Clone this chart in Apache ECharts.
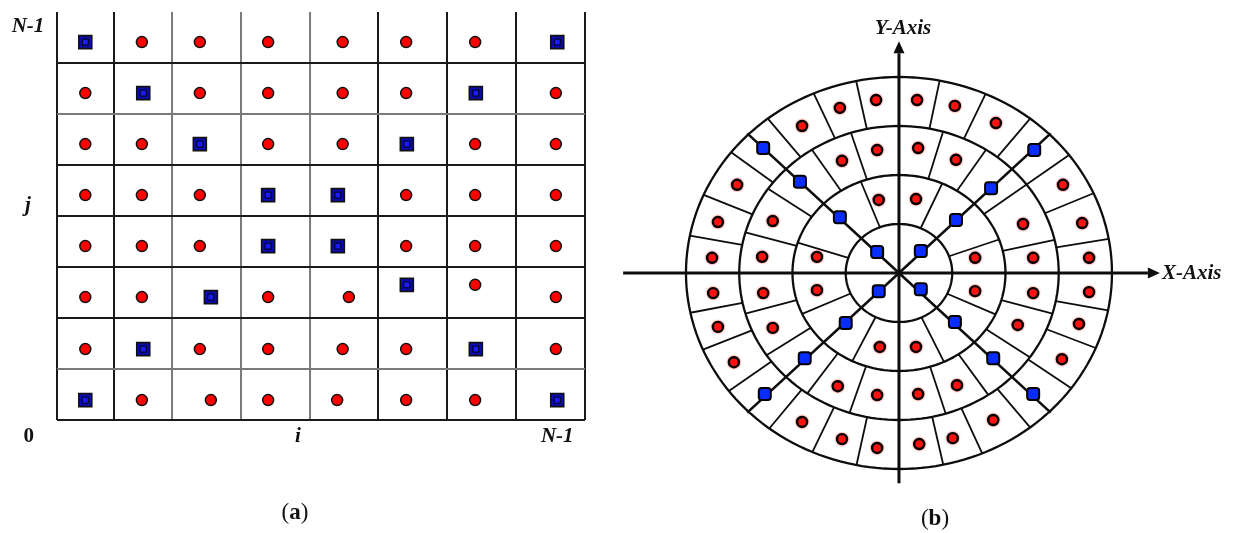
<!DOCTYPE html>
<html>
<head>
<meta charset="utf-8">
<script src="https://cdn.jsdelivr.net/npm/echarts@6/dist/echarts.min.js"></script>
<style>
  html, body { margin: 0; padding: 0; background: #ffffff; }
  #chart { width: 1233px; height: 533px; }
</style>
</head>
<body>
<div id="chart"></div>
<script>
// ---------- (a) rectangular sampling grid, in cell units ----------
const colEdges = [0, 0.826, 1.667, 2.667, 3.667, 4.652, 5.652, 6.652, 7.652];
const rowEdges = [0, 1, 2, 3, 4, 5, 6, 7, 8];
// line tone per vertical / horizontal edge (top edge is open)
const colTones = ['dark', 'dark', 'light', 'light', 'light', 'dark', 'dark', 'dark', 'dark'];
const rowTones = ['dark', 'light', 'dark', 'dark', 'dark', 'dark', 'light', 'dark'];

const gridRedPoints = [
  [1.23, 7.41], [2.07, 7.41], [3.06, 7.41], [4.14, 7.41], [5.06, 7.41], [6.06, 7.41],
  [0.41, 6.41], [2.07, 6.41], [3.06, 6.41], [4.14, 6.41], [5.06, 6.41], [7.23, 6.41],
  [0.41, 5.41], [1.23, 5.41], [3.06, 5.41], [4.14, 5.41], [6.06, 5.41], [7.23, 5.41],
  [0.41, 4.41], [1.23, 4.41], [2.07, 4.41], [5.06, 4.41], [6.06, 4.41], [7.23, 4.41],
  [0.41, 3.41], [1.23, 3.41], [2.07, 3.41], [5.06, 3.41], [6.06, 3.41], [7.23, 3.41],
  [0.41, 2.41], [1.23, 2.41], [3.06, 2.41], [4.23, 2.41], [6.06, 2.65], [7.23, 2.41],
  [0.41, 1.39], [2.07, 1.39], [3.06, 1.39], [4.14, 1.39], [5.06, 1.39], [7.23, 1.39],
  [1.23, 0.39], [2.23, 0.39], [3.06, 0.39], [4.06, 0.39], [5.06, 0.39], [6.06, 0.39]
];
const gridBluePoints = [
  [0.41, 7.41], [7.25, 7.41], [1.25, 6.41], [6.07, 6.41],
  [2.07, 5.41], [5.07, 5.41], [3.06, 4.41], [4.07, 4.41],
  [3.06, 3.41], [4.07, 3.41], [2.23, 2.41], [5.07, 2.65],
  [1.25, 1.39], [6.07, 1.39], [0.41, 0.39], [7.25, 0.39]
];
// axis captions of panel (a); '0' is set upright, the rest in italics
const gridTickLabels = ['N-1', 'j', '0', 'i', 'N-1'];
const gridTickPos = [[-0.42, 7.71], [-0.42, 4.2], [-0.41, -0.33], [3.49, -0.33], [7.25, -0.33]];
const gridTickItalic = [true, true, false, true, true];

// ---------- (b) polar sampling pattern, in ring units ----------
const ringRadii = [1, 2, 3, 4];
// spoke angles (degrees) inside ring 1-2, ring 2-3 and ring 3-4
const spokeAngles2 = [20, 66, 111, 162, 204.7, 244, 295, 335];
const spokeAngles3 = [13, 37, 57, 74, 107.5, 123, 145, 164, 196, 214, 235, 252, 287, 304, 325, 344];
const spokeAngles4 = [10, 24, 37, 52, 66, 79, 101.6, 113.6, 128, 142, 156.5, 169,
                      191.7, 203, 217, 232.5, 246, 258.5, 282, 293, 308, 324, 337.5, 349];
const diagonalAngles = [45, 135, 225, 315];
const diagonalLength = 4.03;

const polarRedPoints = [
  // upper right
  [0.34, 3.53], [1.05, 3.41], [1.82, 3.06], [3.08, 1.80], [3.44, 1.02], [3.57, 0.31],
  [0.36, 2.55], [1.07, 2.31], [2.33, 1.00], [2.52, 0.31],
  [0.32, 1.51], [1.43, 0.31],
  // upper left
  [-0.43, 3.53], [-1.11, 3.37], [-1.82, 3.00], [-3.04, 1.80], [-3.40, 1.04], [-3.51, 0.31],
  [-0.41, 2.51], [-1.07, 2.29], [-2.37, 1.06], [-2.57, 0.33],
  [-0.38, 1.49], [-1.54, 0.33],
  // lower left
  [-3.49, -0.41], [-3.40, -1.10], [-3.10, -1.82], [-1.82, -3.04], [-1.07, -3.39], [-0.41, -3.57],
  [-2.55, -0.41], [-2.37, -1.12], [-1.15, -2.31], [-0.41, -2.49],
  [-1.54, -0.35], [-0.36, -1.51],
  // lower right
  [3.57, -0.39], [3.38, -1.04], [3.06, -1.76], [1.77, -3.00], [1.01, -3.37], [0.38, -3.49],
  [2.52, -0.41], [2.23, -1.06], [1.09, -2.29], [0.36, -2.47],
  [1.43, -0.37], [0.32, -1.51]
];
const polarBluePoints = [
  [0.41, 0.45], [1.07, 1.08], [1.73, 1.73], [2.54, 2.51],
  [-0.41, 0.43], [-1.11, 1.14], [-1.86, 1.86], [-2.55, 2.55],
  [-0.38, -0.37], [-1.00, -1.02], [-1.77, -1.74], [-2.52, -2.47],
  [0.41, -0.33], [1.05, -1.00], [1.77, -1.74], [2.52, -2.47]
];
// axis lines: [x start, y start, x tip, y tip]
const axisLines = [[-5.18, 0, 4.90, 0], [0, -4.29, 0, 4.73]];
const axisNames = ['X-Axis', 'Y-Axis'];

// ---------- drawing ----------
const SERIF = '"Liberation Serif", "Times New Roman", serif';
const INK = '#111111';
const toneColor = { dark: '#1a1a1a', light: '#7a7a7a' };
const rad = d => d * Math.PI / 180;

function lineItem(a, b, color, width) {
  return { type: 'line', shape: { x1: a[0], y1: a[1], x2: b[0], y2: b[1] },
           style: { stroke: color, lineWidth: width, lineCap: 'butt' } };
}

const spokeData = []
  .concat(spokeAngles2.map(a => [a, 1, 2]))
  .concat(spokeAngles3.map(a => [a, 2, 3]))
  .concat(spokeAngles4.map(a => [a, 3, 4]));

const chart = echarts.init(document.getElementById('chart'), null, { renderer: 'canvas' });

function caption(letter, x, y) {
  return {
    type: 'text', x: x, y: y,
    style: {
      text: '({b|' + letter + '})', align: 'center', verticalAlign: 'middle',
      fontFamily: SERIF, fontSize: 23, fill: INK,
      rich: { b: { fontWeight: 'bold', fontSize: 23, fontFamily: SERIF, fill: INK } }
    }
  };
}

chart.setOption({
  animation: false,
  backgroundColor: '#ffffff',
  grid: [
    { left: 57, top: 12, width: 528, height: 408 },
    { left: 606.1, top: 28, width: 585.75, height: 490 }
  ],
  xAxis: [
    { gridIndex: 0, type: 'value', min: 0, max: 7.652, show: false },
    { gridIndex: 1, type: 'value', min: -5.5, max: 5.5, show: false }
  ],
  yAxis: [
    { gridIndex: 0, type: 'value', min: 0, max: 8, show: false },
    { gridIndex: 1, type: 'value', min: -5, max: 5, show: false }
  ],
  graphic: [caption('a', 295, 513), caption('b', 935, 519)],
  series: [
    // (a) vertical cell edges
    {
      type: 'custom', xAxisIndex: 0, yAxisIndex: 0, silent: true,
      data: colEdges.map(x => [x, 0]),
      renderItem: (params, api) => {
        const x = api.value(0);
        const p0 = api.coord([x, rowEdges[0]]);
        const p1 = api.coord([x, rowEdges[rowEdges.length - 1]]);
        return lineItem(p0, p1, toneColor[colTones[params.dataIndex]], 2);
      }
    },
    // (a) horizontal cell edges
    {
      type: 'custom', xAxisIndex: 0, yAxisIndex: 0, silent: true,
      data: rowEdges.slice(0, rowEdges.length - 1).map(y => [0, y]),
      renderItem: (params, api) => {
        const y = api.value(1);
        const p0 = api.coord([colEdges[0], y]);
        const p1 = api.coord([colEdges[colEdges.length - 1], y]);
        return lineItem(p0, p1, toneColor[rowTones[params.dataIndex]], 2);
      }
    },
    {
      type: 'scatter', xAxisIndex: 0, yAxisIndex: 0, silent: true,
      data: gridRedPoints, symbol: 'circle', symbolSize: 11,
      itemStyle: { color: '#ff0000', borderColor: '#111', borderWidth: 1.5, opacity: 1 }
    },
    {
      type: 'scatter', xAxisIndex: 0, yAxisIndex: 0, silent: true,
      data: gridBluePoints, symbol: 'rect', symbolSize: 13,
      itemStyle: { color: '#0a0ab4', borderColor: '#111', borderWidth: 1.6, opacity: 1 }
    },
    {
      type: 'scatter', xAxisIndex: 0, yAxisIndex: 0, silent: true,
      data: gridBluePoints, symbol: 'rect', symbolSize: 6,
      itemStyle: { color: '#1a1aff', borderColor: '#000', borderWidth: 1, opacity: 1 }
    },
    // (a) axis captions
    {
      type: 'custom', xAxisIndex: 0, yAxisIndex: 0, silent: true, clip: false,
      data: gridTickPos.map(p => [p[0], p[1]]),
      renderItem: (params, api) => {
        const p = api.coord([api.value(0), api.value(1)]);
        return {
          type: 'text', x: p[0], y: p[1],
          style: {
            text: gridTickLabels[params.dataIndex], align: 'center', verticalAlign: 'middle',
            fontFamily: SERIF, fontSize: 21, fontWeight: 'bold',
            fontStyle: gridTickItalic[params.dataIndex] ? 'italic' : 'normal', fill: INK
          }
        };
      }
    },

    // (b) concentric rings
    {
      type: 'custom', xAxisIndex: 1, yAxisIndex: 1, silent: true,
      data: ringRadii.map(r => [r, 0]),
      renderItem: (params, api) => {
        const r = api.value(0);
        const pts = [];
        for (let t = 0; t <= 360; t += 2) {
          pts.push(api.coord([r * Math.cos(rad(t)), r * Math.sin(rad(t))]));
        }
        return { type: 'polyline', shape: { points: pts },
                 style: { stroke: '#0d0d0d', lineWidth: 2.3, fill: null } };
      }
    },
    // (b) sector spokes
    {
      type: 'custom', xAxisIndex: 1, yAxisIndex: 1, silent: true,
      data: spokeData,
      renderItem: (params, api) => {
        const a = rad(api.value(0)), r0 = api.value(1), r1 = api.value(2);
        const p0 = api.coord([r0 * Math.cos(a), r0 * Math.sin(a)]);
        const p1 = api.coord([r1 * Math.cos(a), r1 * Math.sin(a)]);
        return lineItem(p0, p1, '#0d0d0d', 1.8);
      }
    },
    // (b) diagonals
    {
      type: 'custom', xAxisIndex: 1, yAxisIndex: 1, silent: true,
      data: diagonalAngles.map(a => [a, 0]),
      renderItem: (params, api) => {
        const a = rad(api.value(0));
        const p0 = api.coord([0, 0]);
        const p1 = api.coord([diagonalLength * Math.cos(a), diagonalLength * Math.sin(a)]);
        return lineItem(p0, p1, '#0d0d0d', 2.6);
      }
    },
    // (b) coordinate axes with arrowheads and names
    {
      type: 'custom', xAxisIndex: 1, yAxisIndex: 1, silent: true, clip: false,
      data: axisLines,
      renderItem: (params, api) => {
        const s = api.coord([api.value(0), api.value(1)]);
        const t = api.coord([api.value(2), api.value(3)]);
        const dx = t[0] - s[0], dy = t[1] - s[1];
        const len = Math.sqrt(dx * dx + dy * dy);
        const ux = dx / len, uy = dy / len, nx = -uy, ny = ux;
        const head = 12, half = 5.5;
        const base = [t[0] - ux * head, t[1] - uy * head];
        const horizontal = params.dataIndex === 0;
        return {
          type: 'group',
          children: [
            lineItem(s, base, '#0d0d0d', 3),
            { type: 'polygon', shape: { points: [
                t, [base[0] + nx * half, base[1] + ny * half], [base[0] - nx * half, base[1] - ny * half]
              ] }, style: { fill: '#0d0d0d' } },
            { type: 'text',
              x: horizontal ? t[0] + 2 : t[0] + 4,
              y: horizontal ? t[1] + 1 : t[1] - 13,
              style: {
                text: axisNames[params.dataIndex],
                align: horizontal ? 'left' : 'center', verticalAlign: 'middle',
                fontFamily: SERIF, fontSize: 21, fontStyle: 'italic', fontWeight: 'bold', fill: INK
              } }
          ]
        };
      }
    },
    {
      type: 'scatter', xAxisIndex: 1, yAxisIndex: 1, silent: true,
      data: polarRedPoints, symbol: 'circle', symbolSize: 10,
      itemStyle: { color: '#ff1010', borderColor: '#000', borderWidth: 2.4,
                   shadowColor: 'rgba(255,40,20,0.9)', shadowBlur: 2, opacity: 1 }
    },
    {
      type: 'scatter', xAxisIndex: 1, yAxisIndex: 1, silent: true,
      data: polarBluePoints, symbol: 'roundRect', symbolSize: 12,
      itemStyle: { color: '#0a2dff', borderColor: '#000', borderWidth: 2, opacity: 1 }
    }
  ]
});
</script>
</body>
</html>
